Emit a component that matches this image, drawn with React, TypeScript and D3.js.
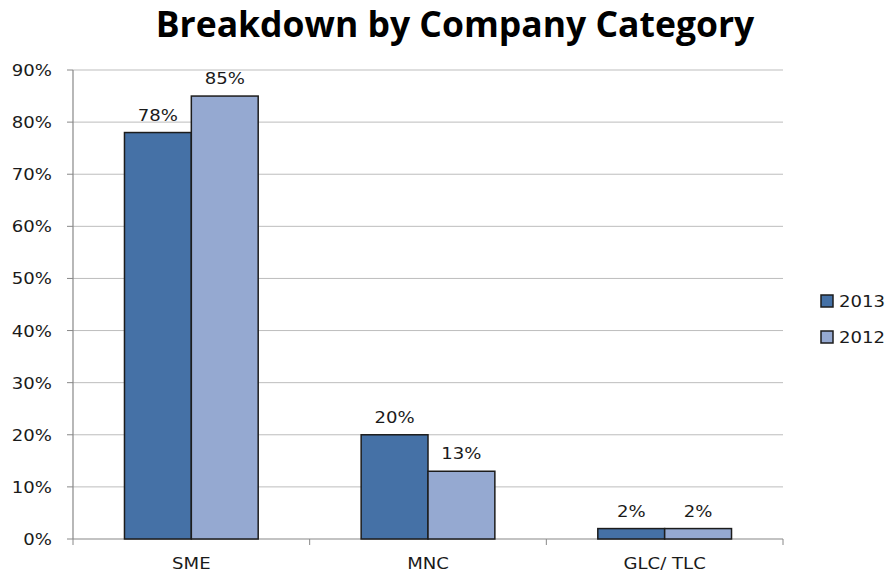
import React from "react";
import * as d3 from "d3";

const categories = ["SME", "MNC", "GLC/ TLC"];
const series = ["2013", "2012"];
const values2013 = [78, 20, 2];
const values2012 = [85, 13, 2];
const yTicks = [0, 10, 20, 30, 40, 50, 60, 70, 80, 90];
const colors = ["#4571A6", "#95A9D1"];

const font = "'DejaVu Sans', Verdana, sans-serif";

function Txt({ x, y, anchor = "start", size = 16, children }: any) {
  return (
    <text
      transform={`translate(${x},${y}) scale(1.13,1)`}
      textAnchor={anchor}
      fontFamily={font}
      fontSize={size}
      fill="#1a1a1a"
    >
      {children}
    </text>
  );
}

export default function App() {
  const W = 886, H = 578;
  const left = 73, right = 783, top = 70, bottom = 539;
  const x0 = d3.scaleBand<string>().domain(categories).range([left, right]).paddingInner(0).paddingOuter(0);
  const x1 = d3.scaleBand<string>().domain(series).range([0, x0.bandwidth()]).paddingInner(0).paddingOuter(0.77);
  const y = d3.scaleLinear().domain([0, 90]).range([bottom, top]);
  const data = [values2013, values2012];
  return (
    <svg width={W} height={H} style={{ position: "absolute", left: 0, top: 0, background: "#fff" }}>
      <text x={455} y={37} textAnchor="middle" fontFamily="'Open Sans', sans-serif" fontWeight="bold" fontSize={35.5} fill="#000">
        Breakdown by Company Category
      </text>
      {yTicks.map((t) => (
        <g key={t}>
          {t > 0 && <line x1={left} x2={right} y1={y(t)} y2={y(t)} stroke="#bdbdbd" strokeWidth={1} />}
          <line x1={left - 6} x2={left} y1={y(t)} y2={y(t)} stroke="#888" strokeWidth={1} />
          <Txt x={52} y={y(t) + 6} anchor="end">{t}%</Txt>
        </g>
      ))}
      <line x1={left} x2={left} y1={top} y2={bottom} stroke="#888" strokeWidth={1.2} />
      <line x1={left} x2={right} y1={bottom} y2={bottom} stroke="#888" strokeWidth={1.2} />
      {[...categories.map((c) => x0(c)!), right].map((xv, i) => (
        <line key={i} x1={xv} x2={xv} y1={bottom} y2={bottom + 6} stroke="#888" strokeWidth={1} />
      ))}
      {categories.map((c, ci) => (
        <g key={c}>
          {series.map((s, si) => {
            const v = data[si][ci];
            const bx = x0(c)! + x1(s)!;
            return (
              <g key={s}>
                <rect x={bx} y={y(v)} width={x1.bandwidth()} height={bottom - y(v)} fill={colors[si]} stroke="#1c1c1c" strokeWidth={1.5} />
                <Txt x={bx + x1.bandwidth() / 2} y={y(v) - 12} anchor="middle">{v}%</Txt>
              </g>
            );
          })}
          <Txt x={x0(c)! + x0.bandwidth() / 2} y={569} anchor="middle">{c}</Txt>
        </g>
      ))}
      {series.map((s, si) => (
        <g key={s}>
          <rect x={821} y={295 + si * 36} width={12} height={12} fill={colors[si]} stroke="#1c1c1c" strokeWidth={1.5} />
          <Txt x={839} y={307 + si * 36}>{s}</Txt>
        </g>
      ))}
    </svg>
  );
}
